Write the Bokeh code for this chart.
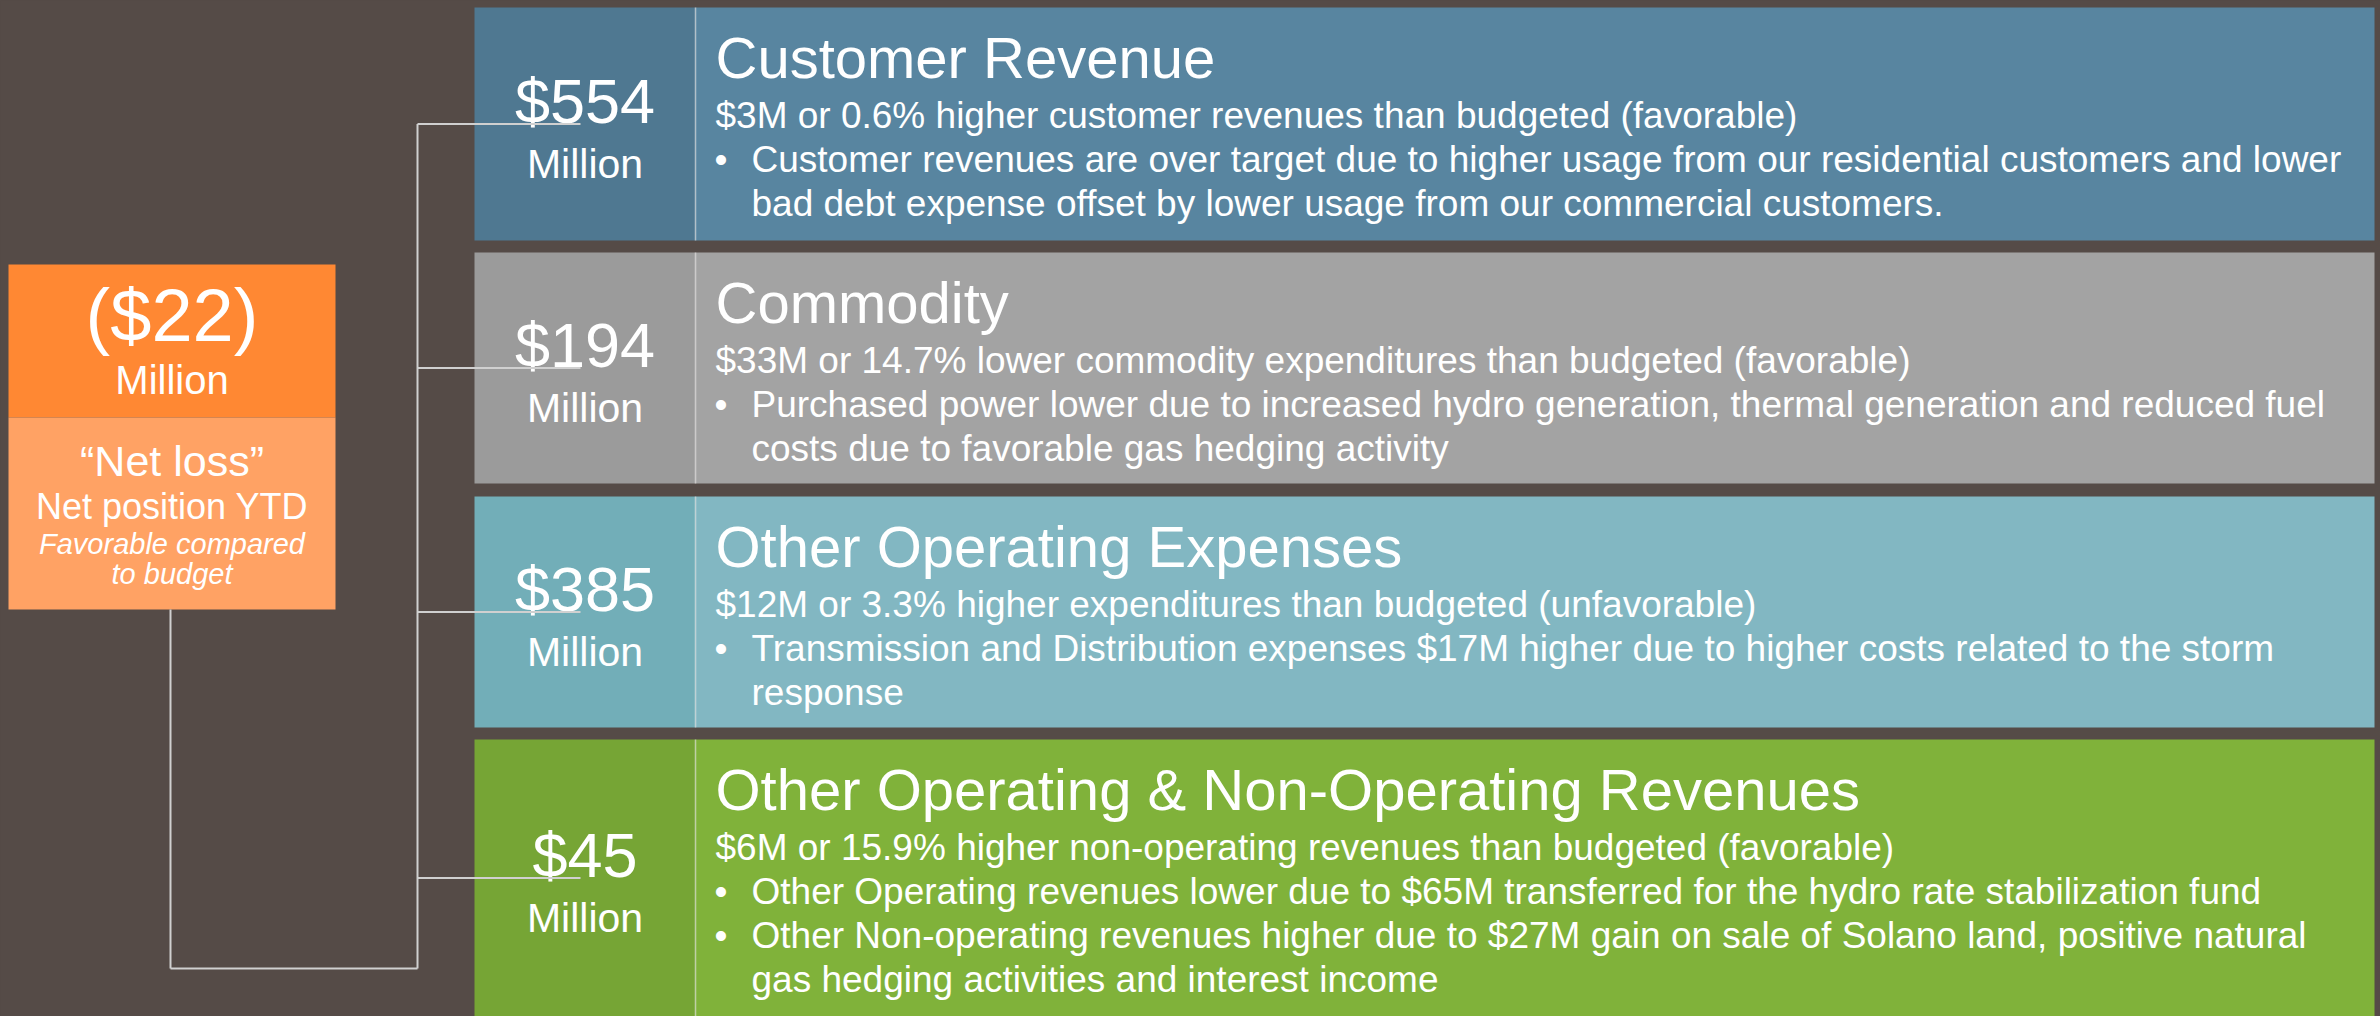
from bokeh.plotting import figure
from bokeh.models import Range1d, GlobalInlineStyleSheet
from bokeh.core.properties import value
from bokeh.embed import file_html
from bokeh.resources import INLINE

# ---------------- data ----------------
net_value = "($22)"
net_unit = "Million"
net_label = "\u201cNet loss\u201d"
net_sub = "Net position YTD"
net_note = ["Favorable compared", "to budget"]

values = ["$554", "$194", "$385", "$45"]
units = ["Million", "Million", "Million", "Million"]
titles = ["Customer Revenue", "Commodity", "Other Operating Expenses",
          "Other Operating & Non-Operating Revenues"]
subtitles = [
    "$3M or 0.6% higher customer revenues than budgeted (favorable)",
    "$33M or 14.7% lower commodity expenditures than budgeted (favorable)",
    "$12M or 3.3% higher expenditures than budgeted (unfavorable)",
    "$6M or 15.9% higher non-operating revenues than budgeted (favorable)",
]
# (text, starts with bullet)
bullets = [
    [("Customer revenues are over target due to higher usage from our residential customers and lower", True),
     ("bad debt expense offset by lower usage from our commercial customers.", False)],
    [("Purchased power lower due to increased hydro generation, thermal generation and reduced fuel", True),
     ("costs due to favorable gas hedging activity", False)],
    [("Transmission and Distribution expenses $17M higher due to higher costs related to the storm", True),
     ("response", False)],
    [("Other Operating revenues lower due to $65M transferred for the hydro rate stabilization fund", True),
     ("Other Non-operating revenues higher due to $27M gain on sale of Solano land, positive natural", True),
     ("gas hedging activities and interest income", False)],
]

# ---------------- styles / layout ----------------
BG = "#554B47"
left_colors = ["#4F7891", "#9B9B9B", "#72AEB8", "#76A535"]
right_colors = ["#5885A0", "#A3A3A3", "#82B7C2", "#80B23A"]
ORANGE = "#FF8833"
ORANGE_L = "#FFA264"
LINE = "#D0D0D0"
FONT = value("Liberation Sans")

W, H = 2380, 1016
row_top = [7, 252, 496, 739]
row_bot = [240, 483, 727, 1016]
X0, XDIV, X1 = 474, 695, 2374
XTEXT, XBUL, XBTXT = 715, 714, 751

p = figure(width=W, height=H, x_range=Range1d(0, W), y_range=Range1d(H, 0),
           output_backend="svg", toolbar_location=None, min_border=0,
           background_fill_color=BG, border_fill_color=BG, outline_line_color=None)
p.axis.visible = False
p.grid.visible = False
p.stylesheets = [GlobalInlineStyleSheet(css="html,body{background-color:#554B47;}")]

# rows
p.quad(left=[X0] * 4, right=[XDIV] * 4, top=row_top, bottom=row_bot,
       fill_color=left_colors, line_color=None)
p.quad(left=[XDIV] * 4, right=[X1] * 4, top=row_top, bottom=row_bot,
       fill_color=right_colors, line_color=None)
p.segment(x0=[XDIV] * 4, x1=[XDIV] * 4, y0=row_top, y1=row_bot,
          line_color="white", line_alpha=0.55, line_width=1.5)

# orange box
p.quad(left=[8], right=[335], top=[264], bottom=[417], fill_color=ORANGE, line_color=None)
p.quad(left=[8], right=[335], top=[417], bottom=[609], fill_color=ORANGE_L, line_color=None)

centers = [(a + b) / 2 for a, b in zip(row_top, row_bot)]
vx = (X0 + XDIV) / 2

def txt(x, y, t, size, align="left", style="normal"):
    p.text(x=x, y=y, text=t, text_font=FONT, text_font_size=size,
           text_font_style=style, text_color="white", text_align=align,
           text_baseline="middle")

# value texts
txt([vx] * 4, [c - 23 for c in centers], values, "63px", "center")
txt([vx] * 4, [c + 40 for c in centers], units, "41px", "center")

# right texts
txt([XTEXT] * 4, [t + 50 for t in row_top], titles, "58px")
txt([XTEXT] * 4, [t + 108 for t in row_top], subtitles, "37px")
bx, by, bt, dx, dy = [], [], [], [], []
for t, lines in zip(row_top, bullets):
    for i, (s, has_b) in enumerate(lines):
        y = t + 152 + 44 * i
        bx.append(XBTXT); by.append(y); bt.append(s)
        if has_b:
            dx.append(XBUL); dy.append(y)
txt(bx, by, bt, "37px")
txt(dx, dy, ["\u2022"] * len(dx), "37px")

# orange box texts
cx = (8 + 335) / 2
txt([cx], [315], [net_value], "74px", "center")
txt([cx], [379], [net_unit], "40px", "center")
txt([cx], [460], [net_label], "43px", "center")
txt([cx], [506], [net_sub], "36px", "center")
txt([cx, cx], [543, 573], net_note, "29px", "center", "italic")

# connector lines
XC, XL, YB, XSTUB = 417, 170, 968, 580
p.segment(x0=[XC] * 4, x1=[XSTUB] * 4, y0=centers, y1=centers,
          line_color=LINE, line_width=2)
p.segment(x0=[XC, XL, XL], x1=[XC, XC, XL], y0=[centers[0], YB, 609], y1=[YB, YB, YB],
          line_color=LINE, line_width=2)

open("out.html", "w").write(file_html(p, INLINE))
